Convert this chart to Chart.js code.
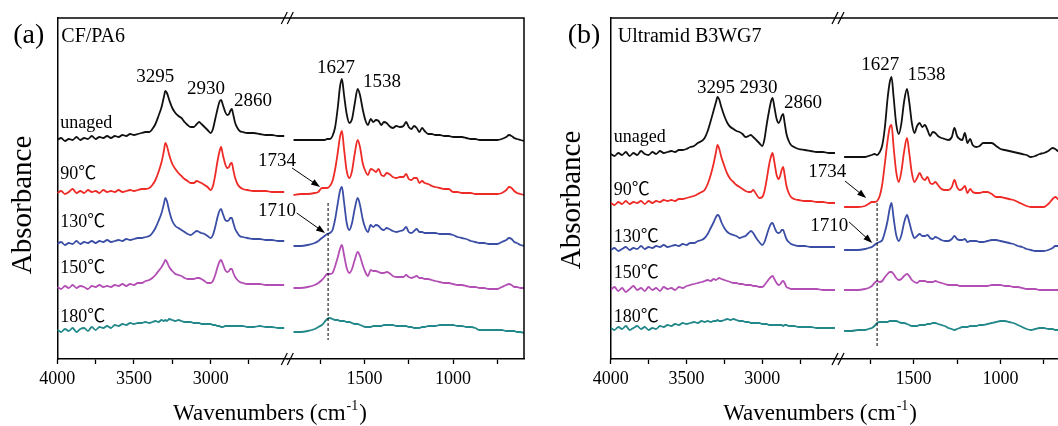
<!DOCTYPE html>
<html>
<head>
<meta charset="utf-8">
<script src="https://cdn.jsdelivr.net/npm/chart.js@4.4.1/dist/chart.umd.min.js"></script>
<style>
  html, body { margin: 0; padding: 0; background: #fff; overflow: hidden; width: 1058px; height: 426px; }
  canvas { position: absolute; top: 0; }
  #chartA { left: 0; }
  #chartB { left: 553px; }
</style>
</head>
<body>
<canvas id="chartA" width="540" height="426"></canvas>
<canvas id="chartB" width="540" height="426"></canvas>
<script>
// wavenumber grids (cm-1) for the two pieces of the broken axis
const leftWn = [
  4000, 3975, 3950, 3925, 3900, 3875, 3850, 3825, 3800, 3775,
  3750, 3725, 3700, 3675, 3650, 3625, 3600, 3575, 3550, 3525,
  3500, 3475, 3450, 3425, 3400, 3380, 3360, 3340, 3320, 3305,
  3295, 3285, 3270, 3250, 3230, 3210, 3190, 3170, 3150, 3130,
  3110, 3090, 3075, 3060, 3040, 3020, 3000, 2985, 2970, 2955,
  2943, 2932, 2920, 2905, 2892, 2880, 2872, 2862, 2852, 2840,
  2825, 2810, 2790, 2760, 2720, 2680, 2640, 2600, 2560, 2520
];
const rightWn = [
  1900, 1860, 1820, 1780, 1760, 1740, 1725, 1710, 1695, 1680,
  1665, 1650, 1638, 1627, 1615, 1600, 1585, 1570, 1555, 1538,
  1525, 1510, 1495, 1480, 1465, 1450, 1435, 1420, 1405, 1390,
  1375, 1360, 1340, 1320, 1300, 1280, 1265, 1250, 1235, 1220,
  1205, 1190, 1175, 1160, 1140, 1120, 1100, 1075, 1050, 1025,
  1000, 975, 950, 925, 900, 875, 850, 825, 800, 775,
  750, 725, 700, 685, 670, 655, 640, 620, 600
];

const seriesLabels = ['unaged', '90℃', '130℃', '150℃', '180℃'];
const seriesColors = ['#111111', '#ee2b26', '#3b4ea5', '#b34fb4', '#22888a'];

// (a) CF/PA6 - absorbance, arbitrary units (offset stacked)
const aUnagedL = [
  219, 221, 218, 220, 219, 222, 219, 221, 220, 223,
  220, 222, 221, 223, 221, 223, 222, 224, 223, 225,
  224, 225, 226, 227, 227, 230, 235, 243, 252, 262,
  268, 266, 259, 251, 246, 243, 241, 237, 234, 232,
  232, 235, 237, 235, 232, 229, 226, 230, 240, 250,
  257, 259, 254, 247, 244, 245, 248, 250, 244, 236,
  231, 228, 227, 226, 226, 225, 224, 224, 223, 223
];
const a90L = [
  166, 168, 165, 167, 170, 166, 168, 166, 169, 167,
  168, 166, 169, 167, 168, 167, 169, 167, 168, 169,
  168, 169, 170, 170, 171, 174, 179, 187, 197, 208,
  216, 213, 204, 195, 190, 186, 183, 180, 178, 176,
  176, 178, 177, 176, 174, 172, 169, 173, 184, 198,
  207, 212, 204, 195, 191, 192, 195, 196, 189, 181,
  175, 172, 170, 169, 168, 168, 168, 167, 167, 167
];
const a130L = [
  115, 117, 114, 116, 115, 118, 115, 117, 116, 118,
  116, 118, 117, 119, 117, 118, 119, 118, 120, 119,
  120, 121, 121, 122, 123, 126, 131, 138, 146, 155,
  161, 158, 148, 138, 133, 131, 129, 127, 125, 124,
  126, 128, 127, 126, 125, 123, 121, 124, 132, 142,
  148, 150, 145, 139, 138, 139, 141, 141, 136, 130,
  126, 123, 122, 121, 120, 120, 119, 119, 118, 118
];
const a150L = [
  72, 70, 73, 71, 74, 71, 73, 72, 70, 73,
  72, 74, 72, 73, 72, 74, 73, 75, 73, 75,
  74, 76, 76, 78, 79, 81, 84, 88, 92, 96,
  99, 97, 92, 88, 85, 84, 83, 81, 80, 80,
  80, 81, 81, 80, 78, 76, 76, 78, 84, 92,
  97, 99, 95, 89, 87, 88, 90, 90, 86, 82,
  79, 77, 76, 75, 75, 75, 74, 74, 74, 74
];
const a180L = [
  29, 27, 30, 28, 31, 27, 30, 31, 28, 32,
  29, 32, 31, 33, 31, 34, 33, 35, 34, 36,
  35, 36, 36, 37, 36, 37, 38, 37, 39, 38,
  39, 38, 40, 39, 38, 39, 38, 37, 37, 37,
  36, 36, 36, 35, 35, 35, 35, 34, 34, 33,
  33, 32, 32, 33, 33, 33, 33, 33, 33, 33,
  33, 33, 33, 32, 32, 33, 32, 32, 31, 31
];
const aUnagedR = [
  219, 219, 219, 219, 219, 219, 219, 220, 220, 223,
  232, 252, 272, 280, 264, 245, 236, 240, 255, 270,
  264, 250, 239, 234, 240, 237, 239, 238, 234, 237,
  236, 233, 231, 233, 232, 233, 237, 232, 230, 233,
  231, 227, 231, 228, 225, 225, 224, 224, 223, 223,
  222, 222, 222, 221, 220, 220, 219, 219, 219, 219,
  219, 220, 222, 224, 223, 221, 220, 219, 218
];
const a90R = [
  164, 165, 165, 166, 167, 171, 171, 171, 173, 178,
  190, 207, 222, 228, 210, 188, 181, 188, 205, 219,
  212, 196, 188, 184, 190, 189, 187, 190, 184, 183,
  186, 185, 182, 181, 182, 182, 185, 180, 179, 181,
  181, 176, 178, 176, 175, 173, 172, 171, 170, 170,
  167, 167, 166, 166, 166, 165, 165, 165, 165, 165,
  165, 166, 169, 172, 171, 168, 166, 165, 164
];
const a130R = [
  113, 113, 114, 116, 118, 121, 123, 125, 126, 129,
  140, 156, 168, 172, 157, 136, 129, 136, 150, 161,
  154, 140, 131, 127, 134, 132, 134, 133, 130, 129,
  131, 130, 128, 127, 128, 129, 132, 127, 126, 128,
  130, 127, 127, 126, 126, 126, 126, 125, 125, 125,
  124, 122, 121, 120, 118, 117, 116, 116, 115, 115,
  115, 117, 119, 121, 120, 117, 116, 114, 113
];
const a150R = [
  71, 71, 72, 74, 76, 79, 82, 85, 85, 86,
  93, 102, 110, 114, 104, 91, 86, 90, 99, 107,
  103, 94, 87, 83, 89, 88, 88, 87, 86, 86,
  87, 86, 83, 82, 82, 82, 84, 82, 81, 82,
  83, 81, 81, 80, 80, 79, 78, 77, 76, 76,
  75, 74, 74, 73, 72, 72, 71, 71, 70, 70,
  70, 72, 74, 75, 74, 72, 72, 71, 71
];
const a180R = [
  27, 27, 28, 30, 32, 34, 37, 40, 41, 40,
  39, 39, 38, 38, 38, 37, 37, 36, 35, 35,
  34, 33, 32, 32, 32, 33, 33, 33, 33, 34,
  34, 34, 34, 33, 33, 33, 33, 32, 32, 31,
  31, 31, 32, 32, 33, 33, 33, 34, 34, 34,
  34, 33, 33, 32, 32, 31, 29, 29, 29, 29,
  29, 29, 28, 28, 28, 28, 27, 27, 26
];

// (b) Ultramid B3WG7
const bUnagedL = [
  205, 203, 206, 204, 207, 203, 206, 204, 208, 205,
  204, 207, 205, 208, 206, 207, 208, 207, 209, 209,
  210, 212, 213, 216, 218, 221, 228, 238, 249, 257,
  262, 260, 252, 243, 236, 232, 230, 228, 227, 225,
  222, 223, 224, 222, 219, 216, 213, 220, 235, 248,
  257, 261, 252, 240, 236, 239, 243, 245, 236, 225,
  218, 214, 212, 210, 209, 208, 207, 207, 206, 206
];
const b90L = [
  156, 154, 157, 155, 158, 155, 157, 156, 158, 155,
  158, 156, 158, 157, 159, 158, 159, 158, 160, 160,
  161, 162, 163, 165, 167, 169, 175, 184, 196, 207,
  214, 211, 202, 193, 185, 180, 177, 174, 172, 170,
  168, 167, 167, 169, 165, 161, 162, 168, 180, 194,
  202, 206, 197, 184, 180, 184, 189, 192, 184, 173,
  166, 162, 160, 159, 158, 158, 157, 157, 156, 156
];
const b130L = [
  109, 111, 108, 110, 112, 109, 111, 110, 113, 110,
  112, 111, 113, 112, 114, 112, 113, 114, 113, 115,
  114, 116, 116, 118, 119, 121, 125, 131, 137, 142,
  144, 143, 137, 131, 127, 125, 124, 123, 121, 122,
  123, 126, 128, 126, 121, 117, 114, 117, 124, 131,
  135, 136, 132, 127, 126, 127, 129, 129, 125, 120,
  117, 115, 114, 113, 113, 112, 112, 112, 112, 112
];
const b150L = [
  69, 72, 68, 71, 67, 70, 73, 69, 71, 68,
  72, 69, 71, 68, 72, 70, 71, 69, 72, 71,
  73, 74, 75, 76, 77, 78, 79, 78, 80, 79,
  80, 81, 80, 79, 78, 77, 76, 76, 75, 75,
  74, 74, 74, 73, 73, 72, 72, 74, 77, 80,
  82, 83, 80, 76, 74, 75, 77, 78, 76, 72,
  71, 70, 70, 70, 70, 70, 70, 69, 69, 69
];
const b180L = [
  31, 29, 32, 30, 33, 29, 31, 33, 30, 32,
  29, 31, 30, 33, 32, 34, 33, 35, 34, 36,
  35, 36, 37, 36, 38, 37, 38, 37, 38, 38,
  39, 38, 38, 39, 40, 39, 40, 39, 38, 38,
  37, 37, 36, 36, 36, 36, 35, 35, 35, 34,
  34, 34, 34, 34, 34, 34, 34, 33, 34, 34,
  33, 33, 33, 32, 32, 32, 31, 31, 31, 31
];
const bUnagedR = [
  202, 202, 202, 202, 203, 204, 205, 204, 207, 214,
  232, 260, 276, 282, 262, 235, 225, 236, 257, 270,
  257, 236, 226, 233, 236, 232, 234, 229, 223, 227,
  226, 223, 221, 220, 219, 222, 231, 223, 220, 219,
  226, 216, 220, 214, 212, 213, 216, 216, 216, 213,
  210, 209, 208, 207, 206, 205, 204, 202, 203, 205,
  206, 208, 211, 210, 208, 207, 206, 205, 204
];
const b90R = [
  152, 152, 152, 153, 155, 157, 157, 158, 163, 175,
  196, 218, 231, 234, 212, 187, 177, 188, 207, 221,
  206, 186, 177, 181, 186, 181, 179, 182, 176, 175,
  177, 174, 170, 169, 169, 172, 179, 172, 169, 170,
  173, 166, 170, 167, 166, 166, 167, 167, 165, 162,
  162, 161, 160, 159, 157, 155, 153, 152, 152, 152,
  152, 155, 160, 162, 160, 158, 156, 154, 153
];
const b130R = [
  109, 109, 109, 110, 111, 112, 114, 116, 117, 119,
  127, 138, 150, 156, 141, 124, 118, 124, 136, 144,
  137, 127, 121, 123, 125, 123, 123, 124, 121, 120,
  122, 121, 119, 118, 118, 120, 123, 120, 119, 119,
  120, 117, 118, 118, 118, 117, 117, 118, 119, 119,
  118, 117, 116, 115, 113, 112, 110, 109, 108, 108,
  108, 109, 111, 113, 113, 112, 111, 110, 109
];
const b150R = [
  69, 69, 69, 70, 71, 73, 76, 78, 77, 78,
  82, 85, 87, 87, 85, 81, 79, 80, 83, 85,
  83, 79, 77, 76, 78, 78, 78, 77, 77, 77,
  78, 77, 76, 75, 74, 74, 74, 74, 73, 73,
  73, 73, 73, 73, 73, 73, 73, 73, 74, 74,
  74, 73, 73, 72, 72, 71, 70, 70, 70, 69,
  69, 69, 69, 69, 69, 69, 69, 69, 69
];
const b180R = [
  28, 28, 29, 29, 30, 31, 33, 36, 37, 37,
  37, 37, 38, 38, 38, 38, 37, 36, 36, 35,
  34, 33, 33, 33, 34, 34, 34, 35, 35, 36,
  36, 35, 34, 33, 31, 30, 29, 30, 31, 32,
  32, 32, 33, 33, 33, 34, 34, 35, 36, 37,
  38, 38, 37, 36, 34, 32, 30, 29, 30, 31,
  31, 30, 30, 29, 29, 29, 29, 28, 28
];

// axis ticks
const leftTicks = [4000, 3750, 3500, 3250, 3000, 2750];
const rightTicks = [1750, 1500, 1250, 1000, 750];
const labeledTicks = [4000, 3500, 3000, 1500, 1000];

// annotations: text, wavenumber, absorbance
const aPeakText = ['3295', '2930', '2860', '1627', '1538', '1734', '1710'];
const aPeakWn = [3362, 3030, 2723, 1660, 1401, 2567, 2567];
const aPeakAbs = [282, 270, 258, 291, 277, 198, 148];
const aSeriesAbs = [236, 185, 137, 91, 42];
const aArrows = [[1908, 191, 1750, 172], [1882, 146, 1722, 126]];
const aDashed = [1705, 156, 19];

const bPeakText = ['3295', '2930', '2860', '1627', '1538', '1734', '1710'];
const bPeakWn = [3305, 3025, 2731, 1692, 1426, 2571, 2557];
const bPeakAbs = [271, 271, 256, 294, 284, 187, 133];
const bSeriesAbs = [222, 169, 122, 86, 42];
const bArrows = [[1895, 178, 1773, 161], [1871, 137, 1738, 116]];
const bDashed = [1710, 156, 11];

const serif = '"Liberation Serif", "Noto Sans CJK SC", serif';

function pairs(xs, ys) {
  return xs.map((x, i) => ({ x: x, y: ys[i] }));
}

function axisFor(w) {
  return w >= 2500 ? 'xl' : 'xr';
}

function drawArrow(ctx, x1, y1, x2, y2) {
  const ang = Math.atan2(y2 - y1, x2 - x1);
  const L = 9, W = 3.2;
  ctx.beginPath();
  ctx.moveTo(x1, y1);
  ctx.lineTo(x2 - L * 0.7 * Math.cos(ang), y2 - L * 0.7 * Math.sin(ang));
  ctx.stroke();
  ctx.beginPath();
  ctx.moveTo(x2, y2);
  ctx.lineTo(x2 - L * Math.cos(ang) + W * Math.sin(ang), y2 - L * Math.sin(ang) - W * Math.cos(ang));
  ctx.lineTo(x2 - L * Math.cos(ang) - W * Math.sin(ang), y2 - L * Math.sin(ang) + W * Math.cos(ang));
  ctx.closePath();
  ctx.fill();
}

function decorPlugin(p) {
  return {
    id: 'decor',
    afterDraw(chart) {
      const { ctx, chartArea: ca, scales } = chart;
      const px = (w) => scales[axisFor(w)].getPixelForValue(w);
      const py = (a) => scales.y.getPixelForValue(a);
      ctx.save();
      ctx.strokeStyle = '#000';
      ctx.fillStyle = '#000';

      // top and right of the frame
      ctx.lineWidth = 1.5;
      ctx.beginPath();
      ctx.moveTo(ca.left, ca.top);
      ctx.lineTo(ca.right, ca.top);
      ctx.lineTo(ca.right, ca.bottom);
      ctx.stroke();

      // break marks
      const bx = scales.xl.right;
      ctx.lineWidth = 1.2;
      [ca.top, ca.bottom].forEach(y => {
        [-3, 3].forEach(off => {
          ctx.beginPath();
          ctx.moveTo(bx + off - 3, y + 6);
          ctx.lineTo(bx + off + 3, y - 6);
          ctx.stroke();
        });
      });

      // dashed guide at 1710
      const dx = scales.xr.getPixelForValue(p.dashed[0]);
      ctx.lineWidth = 1;
      ctx.setLineDash([3, 2]);
      ctx.beginPath();
      ctx.moveTo(dx, py(p.dashed[1]));
      ctx.lineTo(dx, py(p.dashed[2]));
      ctx.stroke();
      ctx.setLineDash([]);

      // arrows
      p.arrows.forEach(a => {
        drawArrow(ctx, scales.xr.getPixelForValue(a[0]), py(a[1]),
                  scales.xr.getPixelForValue(a[2]), py(a[3]));
      });

      // peak labels
      ctx.textBaseline = 'middle';
      ctx.textAlign = 'center';
      ctx.font = '19px ' + serif;
      p.peakText.forEach((t, i) => {
        ctx.fillText(t, px(p.peakWn[i]), py(p.peakAbs[i]));
      });

      // series labels
      ctx.textAlign = 'left';
      ctx.font = '18px ' + serif;
      seriesLabels.forEach((t, i) => {
        ctx.fillText(t, ca.left + 3, py(p.seriesAbs[i]));
      });

      // panel tag and sample name
      ctx.font = '28px ' + serif;
      ctx.fillText(p.tag, ca.left + p.tagDx, ca.top + 18);
      ctx.font = '20px ' + serif;
      ctx.fillText(p.name, ca.left + p.nameDx, ca.top + 19);

      // y title
      ctx.save();
      ctx.translate(ca.left + p.absDx, p.absY);
      ctx.rotate(-Math.PI / 2);
      ctx.textAlign = 'center';
      ctx.font = '29px ' + serif;
      ctx.fillText('Absorbance', 0, 0);
      ctx.restore();

      // x title with superscript
      const main = '23px ' + serif, sup = '14px ' + serif;
      ctx.textBaseline = 'alphabetic';
      ctx.font = main;
      const w1 = ctx.measureText('Wavenumbers (cm').width;
      const w3 = ctx.measureText(')').width;
      ctx.font = sup;
      const w2 = ctx.measureText('-1').width;
      let tx = ca.left + 0.4536 * (ca.right - ca.left) - (w1 + w2 + w3) / 2;
      const ty = 420;
      ctx.font = main;
      ctx.fillText('Wavenumbers (cm', tx, ty);
      tx += w1;
      ctx.font = sup;
      ctx.fillText('-1', tx + 1, ty - 10);
      tx += w2 + 2;
      ctx.font = main;
      ctx.fillText(')', tx, ty);
      ctx.restore();
    }
  };
}

function xAxis(min, max, weight, ticks) {
  return {
    type: 'linear',
    position: 'bottom',
    stack: 'wn',
    stackWeight: weight,
    min: min,
    max: max,
    reverse: true,
    afterBuildTicks: (scale) => { scale.ticks = ticks.map(v => ({ value: v })); },
    afterFit: (scale) => { scale.height = 40; },
    grid: { display: true, drawOnChartArea: false, drawTicks: true, tickLength: 5, tickWidth: 1.3, tickColor: '#000' },
    border: { display: true, color: '#000', width: 1.5 },
    ticks: {
      color: '#000',
      font: { family: serif, size: 18 },
      padding: 4,
      maxRotation: 0,
      autoSkip: false,
      callback: (v) => labeledTicks.includes(v) ? String(v) : ''
    }
  };
}

function makePanel(p) {
  const datasets = [];
  seriesLabels.forEach((name, i) => {
    const style = { borderColor: seriesColors[i], borderWidth: 1.8, pointRadius: 0, fill: false, cubicInterpolationMode: 'monotone' };
    datasets.push(Object.assign({ label: name, data: pairs(leftWn, p.left[i]), xAxisID: 'xl', yAxisID: 'y' }, style));
    datasets.push(Object.assign({ label: name, data: pairs(rightWn, p.right[i]), xAxisID: 'xr', yAxisID: 'y' }, style));
  });

  return new Chart(document.getElementById(p.canvas), {
    type: 'line',
    data: { datasets: datasets },
    options: {
      responsive: false,
      animation: false,
      devicePixelRatio: 1,
      layout: { padding: { left: p.padLeft, right: p.padRight, top: 18, bottom: 27 } },
      plugins: { legend: { display: false }, tooltip: { enabled: false } },
      scales: {
        xl: xAxis(2500, 4000, p.wLeft, leftTicks),
        xr: xAxis(600, 1935, p.wRight, rightTicks),
        y: {
          type: 'linear',
          position: 'left',
          min: 0,
          max: 341,
          ticks: { display: false },
          grid: { display: false },
          border: { display: true, color: '#000', width: 1.5 },
          afterFit: (scale) => { scale.width = 0; }
        }
      }
    },
    plugins: [decorPlugin(p)]
  });
}

makePanel({
  canvas: 'chartA', tag: '(a)', name: 'CF/PA6', tagDx: -44, nameDx: 4, absDx: -34, absY: 205,
  padLeft: 57.3, padRight: 16, wLeft: 230, wRight: 236.7,
  left: [aUnagedL, a90L, a130L, a150L, a180L],
  right: [aUnagedR, a90R, a130R, a150R, a180R],
  peakText: aPeakText, peakWn: aPeakWn, peakAbs: aPeakAbs,
  seriesAbs: aSeriesAbs, arrows: aArrows, dashed: aDashed
});

makePanel({
  canvas: 'chartB', tag: '(b)', name: 'Ultramid B3WG7', tagDx: -43, nameDx: 7, absDx: -38, absY: 200,
  padLeft: 57.7, padRight: 23, wLeft: 227.3, wRight: 232,
  left: [bUnagedL, b90L, b130L, b150L, b180L],
  right: [bUnagedR, b90R, b130R, b150R, b180R],
  peakText: bPeakText, peakWn: bPeakWn, peakAbs: bPeakAbs,
  seriesAbs: bSeriesAbs, arrows: bArrows, dashed: bDashed
});
</script>
</body>
</html>
